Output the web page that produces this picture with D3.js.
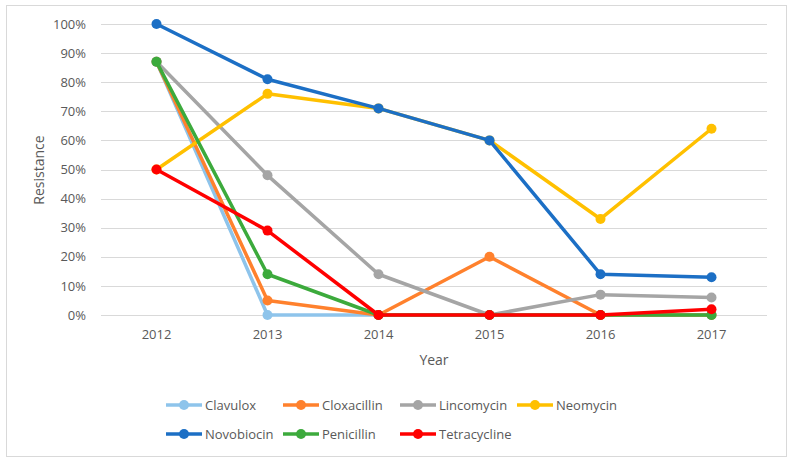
<!DOCTYPE html>
<html>
<head>
<meta charset="utf-8">
<script src="https://cdn.jsdelivr.net/npm/d3@7"></script>
<style>
  body { margin: 0; background: #fff; }
  text { font-family: "Open Sans", "Noto Sans", sans-serif; fill: #595959; }
</style>
</head>
<body>
<div class="container"></div>
<script>
const years = ['2012', '2013', '2014', '2015', '2016', '2017'];
const yTicks = [0, 10, 20, 30, 40, 50, 60, 70, 80, 90, 100];

const drugs = ['Clavulox', 'Cloxacillin', 'Lincomycin', 'Neomycin', 'Novobiocin', 'Penicillin', 'Tetracycline'];
const colors = ['#8EC4EB', '#FF812D', '#A5A5A5', '#FFC000', '#1C6FC5', '#3CAA3C', '#FF0000'];

const clavulox = [87, 0, 0, 0, 0, 0];
const cloxacillin = [87, 5, 0, 20, 0, 0];
const lincomycin = [87, 48, 14, 0, 7, 6];
const neomycin = [50, 76, 71, 60, 33, 64];
const novobiocin = [100, 81, 71, 60, 14, 13];
const penicillin = [87, 14, 0, 0, 0, 0];
const tetracycline = [50, 29, 0, 0, 0, 2];

const seriesValues = [clavulox, cloxacillin, lincomycin, neomycin, novobiocin, penicillin, tetracycline];

const width = 791;
const height = 461;
const margin = { top: 24, right: 24, bottom: 146, left: 101 };

const svg = d3.select('.container')
  .append('svg')
  .attr('width', width)
  .attr('height', height);

// Chart border
svg.append('rect')
  .attr('x', 6.5)
  .attr('y', 5.5)
  .attr('width', 780)
  .attr('height', 451)
  .attr('fill', '#fff')
  .attr('stroke', '#D9D9D9');

const x = d3.scaleBand()
  .domain(years)
  .range([margin.left, width - margin.right]);

const y = d3.scaleLinear()
  .domain([0, 100])
  .range([height - margin.bottom, margin.top]);

// Gridlines
svg.append('g')
  .selectAll('line')
  .data(yTicks)
  .enter()
  .append('line')
  .attr('x1', margin.left)
  .attr('x2', width - margin.right)
  .attr('y1', d => Math.round(y(d)) + 0.5)
  .attr('y2', d => Math.round(y(d)) + 0.5)
  .attr('stroke', '#D9D9D9')
  .attr('stroke-width', 1);

// Y axis
const yAxis = svg.append('g')
  .attr('transform', `translate(${margin.left - 12}, 0)`)
  .call(d3.axisLeft(y).tickValues(yTicks).tickFormat(d => d + '%').tickSize(0));
yAxis.select('.domain').remove();
yAxis.selectAll('text')
  .attr('font-size', 13)
  .style('font-family', '"Open Sans", sans-serif')
  .attr('fill', '#595959');

// X axis
const xAxis = svg.append('g')
  .attr('transform', `translate(0, ${height - margin.bottom + 12})`)
  .call(d3.axisBottom(x).tickSize(0));
xAxis.select('.domain').remove();
xAxis.selectAll('text')
  .attr('font-size', 13)
  .style('font-family', '"Open Sans", sans-serif')
  .attr('fill', '#595959');

// Axis titles
svg.append('text')
  .attr('x', 434)
  .attr('y', 365)
  .attr('text-anchor', 'middle')
  .attr('font-size', 14)
  .text('Year');

svg.append('text')
  .attr('transform', 'translate(44, 170) rotate(-90)')
  .attr('text-anchor', 'middle')
  .attr('font-size', 14)
  .text('Resistance');

// Lines
const line = d3.line()
  .x((d, i) => x(years[i]) + x.bandwidth() / 2)
  .y(d => y(d));

seriesValues.forEach((vals, k) => {
  const g = svg.append('g').attr('class', 'series');
  g.append('path')
    .datum(vals)
    .attr('d', line)
    .attr('fill', 'none')
    .attr('stroke', colors[k])
    .attr('stroke-width', 3.5)
    .attr('stroke-linejoin', 'round');
  g.selectAll('circle')
    .data(vals)
    .enter()
    .append('circle')
    .attr('cx', (d, i) => x(years[i]) + x.bandwidth() / 2)
    .attr('cy', d => y(d))
    .attr('r', 5)
    .attr('fill', colors[k]);
});

// Legend
const legendX = 166;
const legendY = 405;
const colWidth = 117;
const rowHeight = 29;

const legend = svg.append('g').attr('id', 'legend');
const items = legend.selectAll('g')
  .data(drugs)
  .enter()
  .append('g')
  .attr('transform', (d, i) => `translate(${legendX + (i % 4) * colWidth}, ${legendY + Math.floor(i / 4) * rowHeight})`);

items.append('line')
  .attr('x1', 0)
  .attr('x2', 36)
  .attr('stroke', (d, i) => colors[i])
  .attr('stroke-width', 3.5);
items.append('circle')
  .attr('cx', 18)
  .attr('r', 5)
  .attr('fill', (d, i) => colors[i]);
items.append('text')
  .attr('x', 39)
  .attr('dy', '0.35em')
  .attr('font-size', 13)
  .text(d => d);
</script>
</body>
</html>
